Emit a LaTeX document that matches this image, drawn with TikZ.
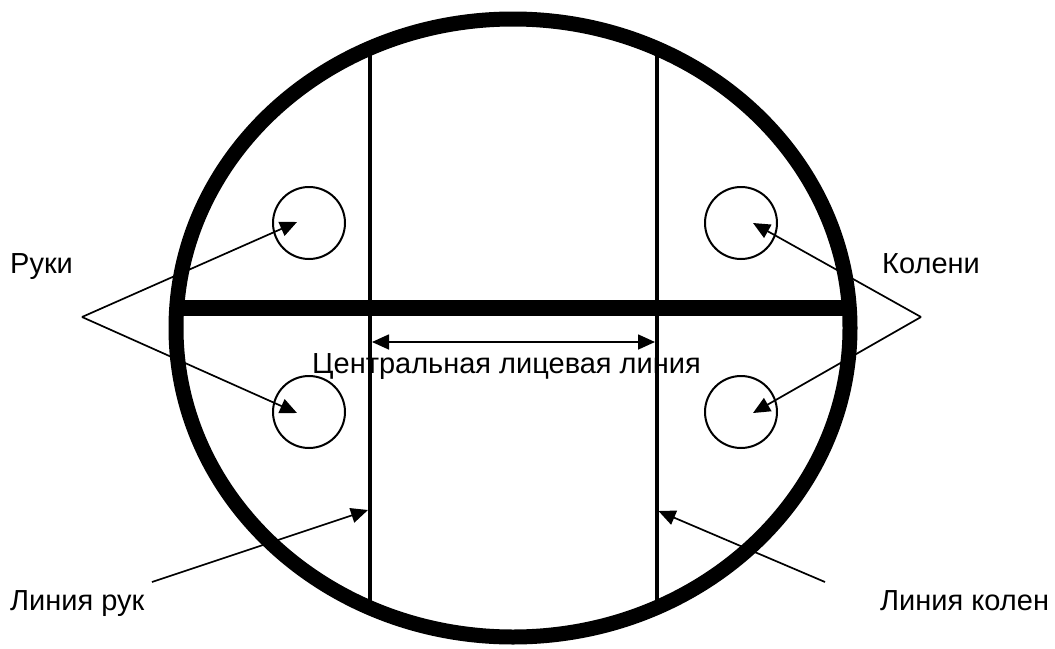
\documentclass[tikz,border=0pt]{standalone}
\usepackage{fontspec}
\setmainfont{Liberation Sans}
\usetikzlibrary{arrows.meta,positioning,calc}

\begin{document}
\begin{tikzpicture}[
    x=1pt,y=-1pt,
    lbl/.style={font=\fontsize{29}{33}\selectfont,inner sep=0pt,anchor=base west},
    spot/.style={draw,circle,line width=2pt,minimum size=72pt,inner sep=0pt},
    ptr/.style={-{Triangle[length=17pt,width=15pt]},line width=1.7pt}
  ]
  \useasboundingbox (0,0) rectangle (1055,648);

  % face lines, cut at the rim
  \begin{scope}
    \clip (513,328) ellipse [x radius=337, y radius=309];
    \draw[line width=16pt] (150,308) -- (880,308);
    \draw[line width=4pt] (370,0) -- (370,648);
    \draw[line width=4pt] (656.5,0) -- (656.5,648);
  \end{scope}
  \draw[line width=15pt] (513,328) ellipse [x radius=337, y radius=309];

  \node[spot] (hu) at (309,223) {};
  \node[spot] (hd) at (309,412) {};
  \node[spot] (ku) at (741,223) {};
  \node[spot] (kd) at (741,412) {};

  \node[lbl] (hands) at (10,273) {Руки};
  \node[lbl] (knees) at (882,273) {Колени};
  \node[lbl] (hline) at (10,610) {Линия рук};
  \node[lbl] (kline) at (880,610) {Линия колен};
  \node[lbl] (mid) at (312,373) {Центральная лицевая линия};

  \coordinate (ha) at (82,317);
  \coordinate (ka) at (921,317);
  \coordinate (hs) at (152,582);
  \coordinate (ks) at (825,582);
  \coordinate (ht) at (368,510);
  \coordinate (kt) at (658.5,511);
  \coordinate (cl) at (372,342);
  \coordinate (cr) at (655,342);

  \draw[ptr] (ha) -- ($(hu)+(-12,-1)$);
  \draw[ptr] (ha) -- ($(hd)+(-12,1)$);
  \draw[ptr] (ka) -- ($(ku)+(12,0)$);
  \draw[ptr] (ka) -- ($(kd)+(12,1)$);
  \draw[ptr] (hs) -- (ht);
  \draw[ptr] (ks) -- (kt);
  \draw[ptr,{Triangle[length=17pt,width=15pt]}-{Triangle[length=17pt,width=15pt]}] (cl) -- (cr);
\end{tikzpicture}
\end{document}
